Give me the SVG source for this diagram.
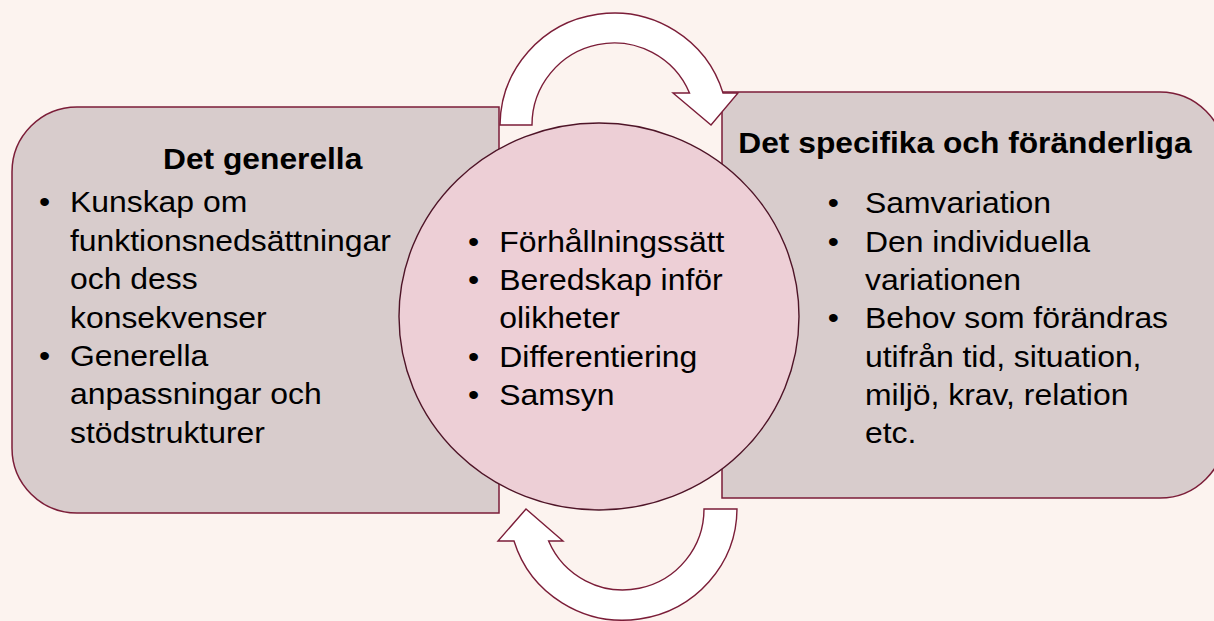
<svg xmlns="http://www.w3.org/2000/svg" width="1214" height="621" viewBox="0 0 1214 621">
<style>
.box{fill:#D8CCCC;stroke:#7B1D38;stroke-width:1.5}
.circ{fill:#EDCFD6;stroke:#4E1427;stroke-width:1.4}
.arrow{fill:#FFFFFF;stroke:#7B1D38;stroke-width:1.4;stroke-linejoin:miter}
.t{font-family:"Liberation Sans",Arial,sans-serif;font-size:29px;fill:#000}
.b{font-weight:bold}
.bul{text-anchor:middle}
</style>
<rect x="0" y="0" width="1214" height="621" fill="#FCF3EF"/>

<g id="left-box">
  <path class="box" d="M77,107 H499 V513 H77 A65,65 0 0 1 12,448 V172 A65,65 0 0 1 77,107 Z"/>
  <text class="t b" transform="translate(163,169) scale(1.095,1)">Det generella</text>
  <text class="t bul" transform="translate(44.7,212.3) scale(1.1,1)"><tspan x="0" y="0">•</tspan><tspan x="0" y="153.7">•</tspan></text>
  <text class="t" transform="translate(70,212.3) scale(1.1,1)"><tspan x="0" y="0">Kunskap om</tspan><tspan x="0" y="38.4">funktionsnedsättningar</tspan><tspan x="0" y="76.8">och dess</tspan><tspan x="0" y="115.3">konsekvenser</tspan><tspan x="0" y="153.7">Generella</tspan><tspan x="0" y="192.1">anpassningar och</tspan><tspan x="0" y="230.5">stödstrukturer</tspan></text>
</g>

<g id="right-box">
  <path class="box" d="M722,92 H1160 A65,65 0 0 1 1225,157 V433 A65,65 0 0 1 1160,498 H722 Z"/>
  <text class="t b" transform="translate(738.3,153.3) scale(1.095,1)">Det specifika och föränderliga</text>
  <text class="t bul" transform="translate(833.3,213.3) scale(1.1,1)"><tspan x="0" y="0">•</tspan><tspan x="0" y="38.4">•</tspan><tspan x="0" y="115.2">•</tspan></text>
  <text class="t" transform="translate(865,213.3) scale(1.1,1)"><tspan x="0" y="0">Samvariation</tspan><tspan x="0" y="38.4">Den individuella</tspan><tspan x="0" y="76.7">variationen</tspan><tspan x="0" y="115.1">Behov som förändras</tspan><tspan x="0" y="153.4">utifrån tid, situation,</tspan><tspan x="0" y="191.7">miljö, krav, relation</tspan><tspan x="0" y="230">etc.</tspan></text>
</g>

<g id="center-circle">
  <ellipse class="circ" cx="599" cy="316.5" rx="200" ry="193.5"/>
  <text class="t bul" transform="translate(473.7,251.7) scale(1.1,1)"><tspan x="0" y="0">•</tspan><tspan x="0" y="38.4">•</tspan><tspan x="0" y="115.1">•</tspan><tspan x="0" y="153.4">•</tspan></text>
  <text class="t" transform="translate(499.3,251.7) scale(1.1,1)"><tspan x="0" y="0">Förhållningssätt</tspan><tspan x="0" y="38.4">Beredskap inför</tspan><tspan x="0" y="76.7">olikheter</tspan><tspan x="0" y="115.1">Differentiering</tspan><tspan x="0" y="153.4">Samsyn</tspan></text>
</g>

<g id="connectors">
  <path id="arrow-top" class="arrow" d="M500,125 A114,113 0 0 1 723,93 L738,93 L711,125 L673,93 L689.5,93 A82,82 0 0 0 532,125 Z"/>
  <path id="arrow-bottom" class="arrow" d="M737,509 A114,112 0 0 1 514,541 L498,541 L526,509 L563,541 L548.6,541 A81,81 0 0 0 704,509 Z"/>
</g>
</svg>
